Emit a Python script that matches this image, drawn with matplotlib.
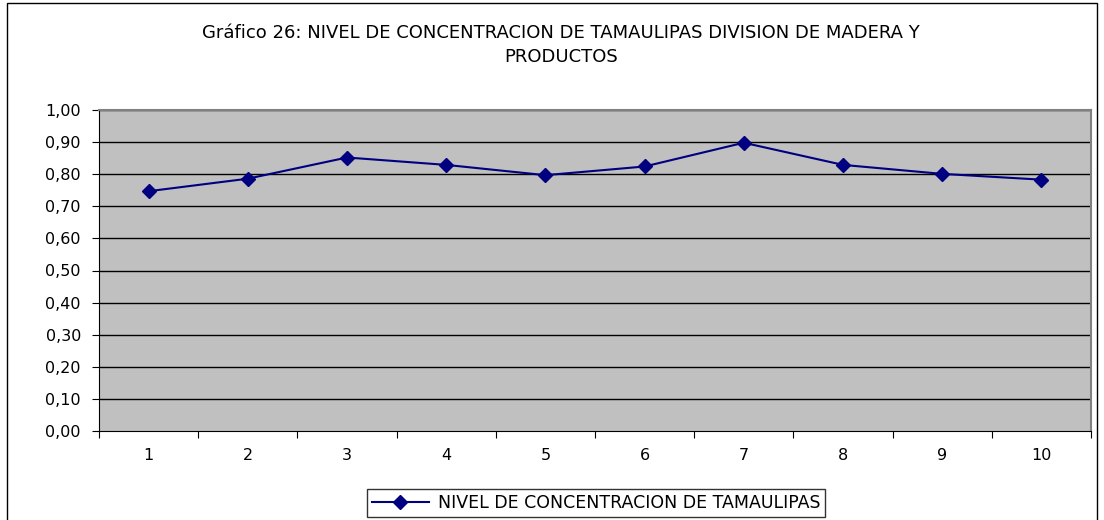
import numpy as np
import matplotlib.pyplot as plt
from matplotlib.patches import Rectangle

plt.rcParams['font.family'] = ['DejaVu Sans']

# data
categorias = [1, 2, 3, 4, 5, 6, 7, 8, 9, 10]
concentracion = [0.747, 0.786, 0.852, 0.829, 0.797, 0.824, 0.898, 0.829, 0.801, 0.783]
y_ticks = np.arange(0, 1.01, 0.1)
y_labels = ['%.2f' % v for v in y_ticks]
y_labels = [s.replace('.', ',') for s in y_labels]

titulo1 = 'Gráfico 26: NIVEL DE CONCENTRACION DE TAMAULIPAS DIVISION DE MADERA Y'
titulo2 = 'PRODUCTOS'
serie = 'NIVEL DE CONCENTRACION DE TAMAULIPAS'

W, H = 1104, 520
fig = plt.figure(figsize=(W / 100, H / 100), dpi=100)

# outer chart border
fig.patches.append(Rectangle((7 / W, -0.01), 1090 / W, 1 - 3 / H + 0.01,
                             transform=fig.transFigure, fill=False,
                             edgecolor='black', linewidth=1))

ax = fig.add_axes([99 / W, (H - 431) / H, 992 / W, 321 / H])
ax.set_facecolor('#C0C0C0')

for v in y_ticks[1:]:
    ax.axhline(v, color='black', linewidth=1, zorder=1)

ax.plot(categorias, concentracion, color='#000080', linewidth=1.5,
        marker='D', markersize=7, label=serie, zorder=3)

ax.set_xlim(0.5, 10.5)
ax.set_ylim(0, 1.0)
ax.set_yticks(y_ticks)
ax.set_yticklabels(y_labels, fontsize=11.5)
ax.set_xticks(np.arange(0.5, 11, 1))
ax.set_xticklabels([])
ax.set_xticks(categorias, minor=True)
ax.set_xticklabels([str(c) for c in categorias], minor=True, fontsize=11.5)
ax.tick_params(axis='x', which='minor', length=0, pad=12)
ax.tick_params(axis='x', which='major', length=5, direction='out')
ax.tick_params(axis='y', length=5, direction='out', pad=8)

for s in ['top', 'right']:
    ax.spines[s].set_color('#808080')
    ax.spines[s].set_linewidth(1.5)
ax.spines['left'].set_color('black')
ax.spines['bottom'].set_color('black')

fig.text(561 / W, 1 - 33 / H, titulo1, ha='center', va='center', fontsize=13)
fig.text(561 / W, 1 - 57 / H, titulo2, ha='center', va='center', fontsize=13)

leg = fig.legend(loc='center', bbox_to_anchor=(596 / W, 1 - 503 / H),
                 fontsize=12.5, frameon=True, fancybox=False,
                 edgecolor='black', handlelength=3.3, borderpad=0.3,
                 handletextpad=0.5)
leg.get_frame().set_linewidth(1)

fig.savefig('out.png', dpi=100)
